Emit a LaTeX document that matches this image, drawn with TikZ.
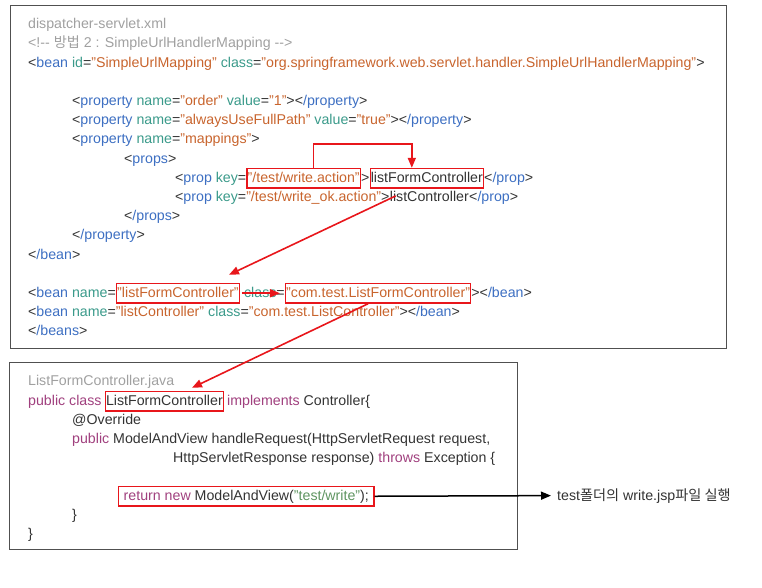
\documentclass[tikz,border=0pt]{standalone}
\usepackage{fontspec}
\setmainfont{Liberation Sans}
\newfontfamily\krfont{Noto Sans CJK KR}
\usetikzlibrary{positioning,arrows.meta}
\definecolor{tagblue}{HTML}{3D6FC2}
\definecolor{attrteal}{HTML}{3A9A8A}
\definecolor{valorange}{HTML}{C8642D}
\definecolor{cmtgray}{HTML}{A0A0A0}
\definecolor{codegray}{HTML}{333333}
\definecolor{kwpurple}{HTML}{A0407E}
\definecolor{strgreen}{HTML}{5E9460}
\definecolor{markred}{HTML}{E8161B}
\definecolor{framegray}{HTML}{505050}
\newcommand\xtag[1]{\textcolor{tagblue}{#1}}
\newcommand\xattr[1]{\textcolor{attrteal}{#1}}
\newcommand\xval[1]{\textcolor{valorange}{#1}}
\newcommand\xcmt[1]{\textcolor{cmtgray}{#1}}
\newcommand\xkw[1]{\textcolor{kwpurple}{#1}}
\newcommand\xstr[1]{\textcolor{strgreen}{#1}}

\begin{document}
\begin{tikzpicture}[x=1pt,y=-1pt,
  code/.style={anchor=base west,inner sep=0pt,text=codegray,font=\fontsize{14.2}{17}\selectfont},
  hilite/.style={code,draw=markred,line width=1.4pt,inner xsep=0.5pt,inner ysep=3pt,text height=10.5pt,text depth=3pt},
  frame/.style={draw=framegray,line width=1.2pt,inner sep=0pt,anchor=north west},
  redarrow/.style={draw=markred,line width=1.6pt,-{Triangle[length=10pt,width=8pt]}},
  blackarrow/.style={draw=black,line width=1.5pt,-{Triangle[length=10pt,width=8pt]}}]
  \useasboundingbox (0,0) rectangle (762,587);
  \node[frame,minimum width=716pt,minimum height=343pt] (xmlbox) at (10,5) {};
  \node[frame,minimum width=508pt,minimum height=187pt] (javabox) at (9,362) {};

  \node[code] (l1) at (28,28) {\xcmt{dispatcher-servlet.xml}};
  \node[code] (l2) at (28,47) {\xcmt{<!-{}- {\krfont 방법} 2 : SimpleUrlHandlerMapping -{}->}};
  \node[code] (l3) at (28,67) {<\xtag{bean} \xattr{id}=\xval{"SimpleUrlMapping"} \xattr{class}=\xval{"org.springframework.web.servlet.handler.SimpleUrlHandlerMapping"}>};
  \node[code] (l5) at (72,105) {<\xtag{property} \xattr{name}=\xval{"order"} \xattr{value}=\xval{"1"}><\xtag{/property}>};
  \node[code] (l6) at (72,124) {<\xtag{property} \xattr{name}=\xval{"alwaysUseFullPath"} \xattr{value}=\xval{"true"}><\xtag{/property}>};
  \node[code] (l7) at (72,143) {<\xtag{property} \xattr{name}=\xval{"mappings"}>};
  \node[code] (l8) at (124,163) {<\xtag{props}>};
  \node[code] (p1) at (175,182) {<\xtag{prop} \xattr{key}=};
  \node[hilite] (wact) at (p1.base east) {\xval{"/test/write.action"}};
  \node[code] (p1b) at (wact.base east) {>};
  \node[hilite] (lfc) at (p1b.base east) {listFormController};
  \node[code] (p1c) at (lfc.base east) {<\xtag{/prop}>};
  \node[code] (p2) at (175,201) {<\xtag{prop} \xattr{key}=\xval{"/test/write\_ok.action"}>};
  \node[code] (lc) at (p2.base east) {listController};
  \node[code] (p2b) at (lc.base east) {<\xtag{/prop}>};
  \node[code] (l11) at (124,220) {<\xtag{/props}>};
  \node[code] (l12) at (72,239) {<\xtag{/property}>};
  \node[code] (l13) at (28,259) {<\xtag{/bean}>};
  \node[code] (b1) at (28,297) {<\xtag{bean} \xattr{name}=};
  \node[hilite] (lfcb) at (b1.base east) {\xval{"listFormController"}};
  \node[code] (b1b) at ([xshift=4pt]lfcb.base east) {\xattr{class}=};
  \node[hilite] (cls) at (b1b.base east) {\xval{"com.test.ListFormController"}};
  \node[code] (b1c) at (cls.base east) {><\xtag{/bean}>};
  \node[code] (b2) at (28,316) {<\xtag{bean} \xattr{name}=\xval{"listController"} \xattr{class}=\xval{"com.test.ListController"}><\xtag{/bean}>};
  \node[code] (l17) at (28,335) {<\xtag{/beans}>};

  \node[code] (j1) at (28,385) {\xcmt{ListFormController.java}};
  \node[code] (j2) at (28,405) {\xkw{public class}};
  \node[hilite] (jlfc) at ([xshift=3pt]j2.base east) {ListFormController};
  \node[code] (j2b) at ([xshift=3pt]jlfc.base east) {\xkw{implements} Controller\{};
  \node[code] (j3) at (72,424) {@Override};
  \node[code] (j4) at (72,443) {\xkw{public} ModelAndView handleRequest(HttpServletRequest request,};
  \node[code] (j5) at (173,462) {HttpServletResponse response) \xkw{throws} Exception \{};
  \node[hilite,inner xsep=5pt] (ret) at (118,500) {\xkw{return new} ModelAndView(\xstr{"test/write"});};
  \node[code] (j8) at (72,519) {\}};
  \node[code] (j9) at (28,538) {\}};
  \node[code] (result) at (557,500) {test{\krfont 폴더의} write.jsp{\krfont 파일 실행}};

  \draw[redarrow] ([xshift=10pt]wact.north) -- ++(0,-24) -| ([xshift=-15pt]lfc.north);
  \draw[redarrow] ([xshift=6pt]lc.west) -- ([shift={(-11pt,8pt)}]lfcb.north east);
  \draw[redarrow,shorten <=2pt,shorten >=5pt] (lfcb.east) -- (cls.west);
  \draw[redarrow] ([xshift=-10pt]cls.south) -- ([shift={(-32pt,3pt)}]jlfc.north east);
  \draw[blackarrow,shorten >=6pt] (ret.east) -- (result.west);
\end{tikzpicture}
\end{document}
